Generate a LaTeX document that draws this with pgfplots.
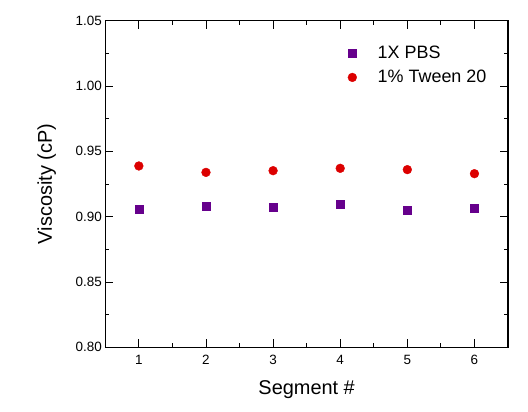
\documentclass[border=0pt]{standalone}
\usepackage{pgfplots}
\pgfplotsset{compat=1.18}
\usepackage{fontspec}
\setmainfont{Liberation Sans}
\definecolor{pbs}{RGB}{102,0,140}
\definecolor{tween}{RGB}{220,0,0}
\begin{document}
\begin{tikzpicture}
\begin{axis}[
  name=ax,
  at={(0,0)}, anchor=south west,
  scale only axis,
  width=402.7bp, height=326.6bp,
  xmin=0.5, xmax=6.5,
  ymin=0.80, ymax=1.05,
  xtick={1,2,3,4,5,6},
  minor xtick={0.5,1.5,2.5,3.5,4.5,5.5,6.5},
  ytick={0.80,0.85,0.90,0.95,1.00,1.05},
  minor ytick={0.825,0.875,0.925,0.975,1.025},
  tick align=inside,
  major tick length=8bp,
  minor tick length=4bp,
  every tick/.style={black, line width=0.9bp},
  axis line style={line width=1.1bp},
  yticklabel style={/pgf/number format/.cd, fixed, fixed zerofill, precision=2},
  /pgf/number format/assume math mode=true,
  tick label style={font=\fontsize{13.5}{16}\selectfont},
  xticklabel style={yshift=-4bp},
  xlabel={Segment \#},
  ylabel={Viscosity (cP)},
  label style={font=\fontsize{20}{24}\selectfont},
  xlabel style={at={(axis description cs:0.5,-0.131)}, anchor=center},
  ylabel style={at={(axis description cs:-0.1455,0.5)}, anchor=center},
  legend style={at={(axis description cs:0.602,0.928)}, anchor=north west,
    draw=none, fill=none, font=\fontsize{18}{22}\selectfont,
    row sep=6bp, column sep=19bp, inner sep=0pt},
  legend cell align=left,
  legend image code/.code={\draw[#1] plot coordinates {(0bp,0bp)};},
]
\addplot[only marks, mark=square*, mark size=4bp, color=pbs] coordinates {
 (1,0.9054) (2,0.9082) (3,0.9074) (4,0.9099) (5,0.9048) (6,0.9061)};
\addlegendentry{1X PBS}
\addplot[only marks, mark=*, mark size=4.4bp, color=tween] coordinates {
 (1,0.9388) (2,0.9339) (3,0.9352) (4,0.9370) (5,0.9360) (6,0.9329)};
\addlegendentry{1\% Tween 20}
\end{axis}
\path (ax.south west) ++(-105.3bp,-64.7bp) rectangle ++(528bp,412bp);
\end{tikzpicture}
\end{document}
